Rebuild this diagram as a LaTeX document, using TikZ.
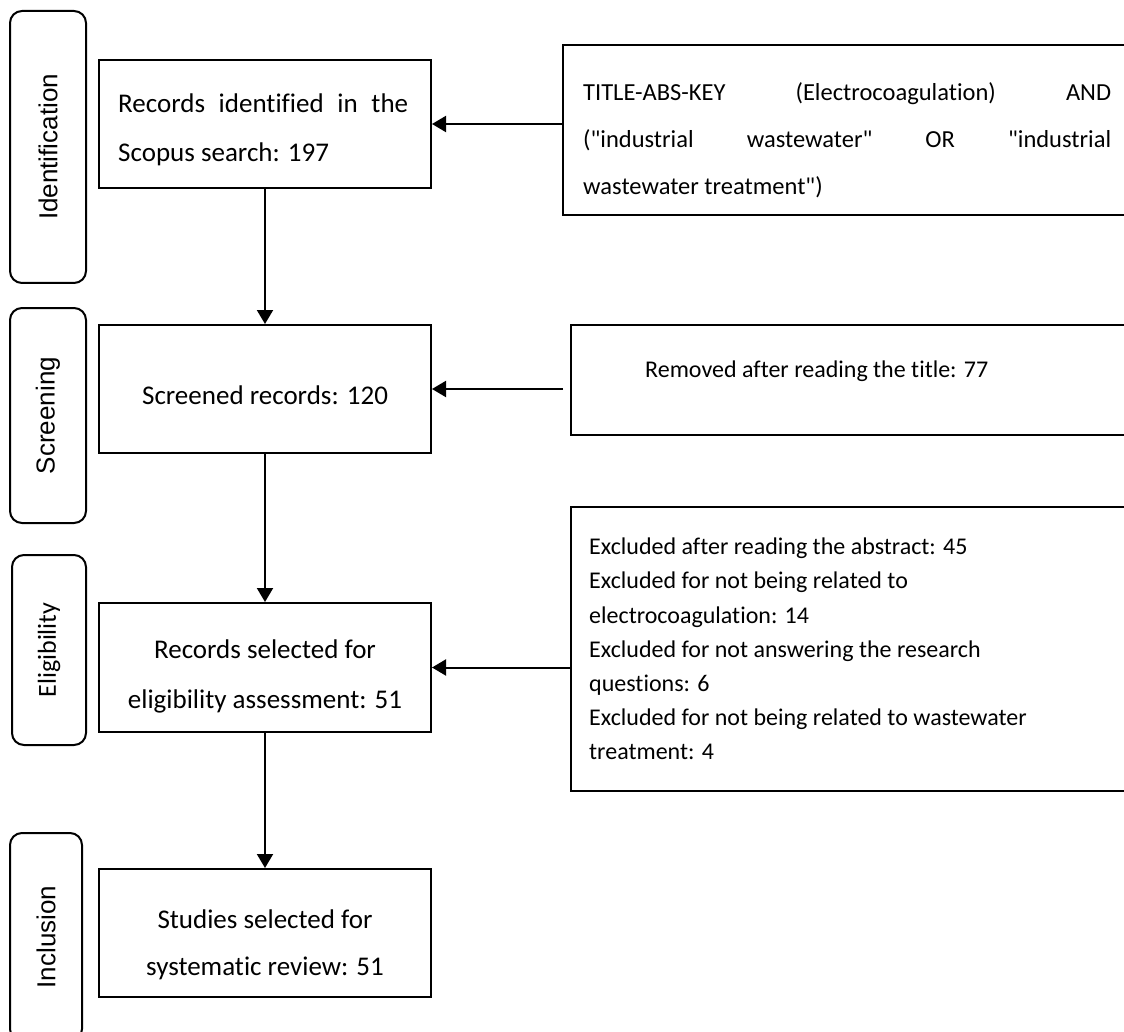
\documentclass[tikz,border=0pt]{standalone}
\usepackage{fontspec}
\setmainfont{Carlito}[Ligatures={TeX,NoCommon}]
\newfontfamily\qfont{Carlito}[Ligatures=NoCommon]
\newfontfamily\labfont{Liberation Sans}
\usetikzlibrary{arrows.meta}
\begin{document}
\begin{tikzpicture}[x=1pt,y=-1pt,
  phase/.style={draw,line width=2pt,rounded corners=12pt,inner sep=0pt,rotate=90},
  arialab/.style={font=\labfont\fontsize{26}{30}\selectfont},
  calilab/.style={font=\fontsize{26}{30}\selectfont},
  mainbox/.style={draw,line width=2pt,minimum width=332pt,minimum height=128pt,inner sep=0pt},
  sidebox/.style={draw,line width=2pt,inner sep=0pt},
  txt/.style={inner sep=0pt,font=\fontsize{27}{48}\selectfont},
  stxt/.style={inner sep=0pt,align=left},
  arr/.style={line width=2pt,-{Triangle[length=14pt,width=16pt]}}]
\useasboundingbox (0,0) rectangle (1124,1032);

% phase labels
\node[phase,arialab,minimum width=272pt,minimum height=76pt] (ident) at (48,147) {Identification};
\node[phase,arialab,minimum width=215pt,minimum height=76pt] (screen) at (48,415.5) {Screening};
\node[phase,calilab,minimum width=190pt,minimum height=74pt] (elig) at (49,650) {Eligibility};
\node[phase,arialab,minimum width=208pt,minimum height=72pt] (incl) at (46,937) {Inclusion};

% main boxes
\node[mainbox] (b1) at (265,124) {};
\node[mainbox] (b2) at (265,389) {};
\node[mainbox,minimum height=129pt] (b3) at (265,667.5) {};
\node[mainbox] (b4) at (265,933) {};

\node[txt,align=left,anchor=base west,font=\fontsize{27}{49}\selectfont] (b1t) at (118,161.5)
  {\makebox[290pt][s]{Records identified in the}\\Scopus search: 197};
\node[txt,anchor=base] (b2t) at (265,404.5) {Screened records: 120};
\node[txt,align=center,anchor=base,font=\fontsize{27}{50}\selectfont] (b3t) at (265,708.5)
  {Records selected for\\eligibility assessment: 51};
\node[txt,align=center,anchor=base,font=\fontsize{27}{47}\selectfont] (b4t) at (265,975.5)
  {Studies selected for\\systematic review: 51};

% side boxes
\node[sidebox,minimum width=587pt,minimum height=170pt] (q) at (856.5,130) {};
\node[stxt,anchor=base west,font=\qfont\fontsize{24.5}{47}\selectfont] (qt) at (583,195)
  {\makebox[528pt][s]{TITLE-ABS-KEY (Electrocoagulation) AND}\\
   \makebox[528pt][s]{("industrial wastewater" OR "industrial}\\
   wastewater treatment")};

\node[sidebox,minimum width=579pt,minimum height=110pt] (rem) at (860.5,380) {};
\node[stxt,anchor=base west,font=\fontsize{24}{34}\selectfont] (remt) at (645,377.7)
  {Removed after reading the title: 77};

\node[sidebox,minimum width=579pt,minimum height=284pt] (exc) at (860.5,649) {};
\node[stxt,anchor=base west,font=\fontsize{24}{34.17}\selectfont] (exct) at (589,759.7)
  {Excluded after reading the abstract: 45\\
   Excluded for not being related to\\
   electrocoagulation: 14\\
   Excluded for not answering the research\\
   questions: 6\\
   Excluded for not being related to wastewater\\
   treatment: 4};

% connectors
\coordinate (remL) at ([xshift=-7pt]rem.west);
\draw[arr] (b1.south) -- (b2.north);
\draw[arr] (b2.south) -- (b3.north);
\draw[arr] (b3.south) -- (b4.north);
\draw[arr] (b1.east -| q.west) -- (b1.east);
\draw[arr] (b2.east -| remL) -- (b2.east);
\draw[arr] (b3.east -| exc.west) -- (b3.east);
\end{tikzpicture}
\end{document}
